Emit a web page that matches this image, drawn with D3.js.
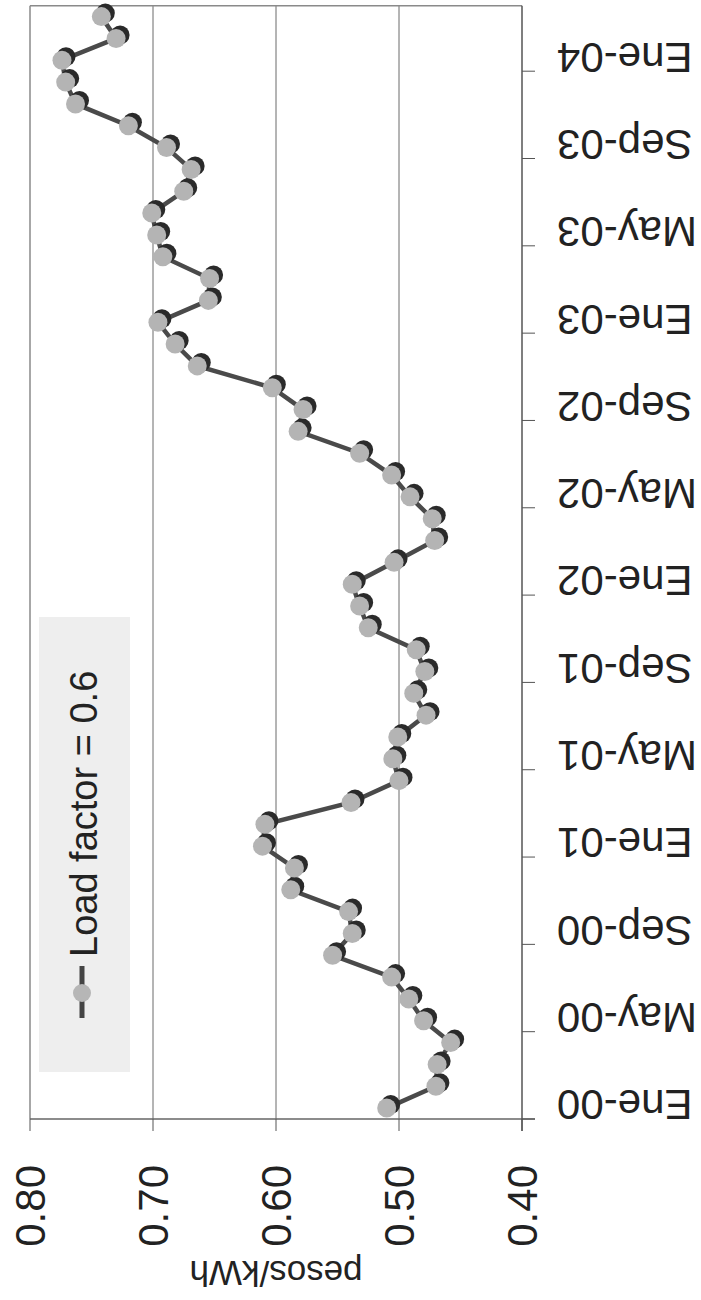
<!DOCTYPE html>
<html>
<head>
<meta charset="utf-8">
<script src="https://cdn.jsdelivr.net/npm/d3@7"></script>
<style>
  body { margin: 0; background: #fff; }
  text { font-family: "Liberation Sans", Arial, sans-serif; fill: #222; }
</style>
</head>
<body>
<div id="chart"></div>
<script>
// Monthly price, load factor 0.6 (chart is drawn turned a quarter turn)
const monthNames = ["Ene", "Feb", "Mar", "Abr", "May", "Jun", "Jul", "Ago", "Sep", "Oct", "Nov", "Dic"];
const months = d3.range(51).map(i => monthNames[i % 12] + "-0" + Math.floor(i / 12));

const prices = [
  0.510, 0.470, 0.469, 0.458, 0.480, 0.492, 0.506, 0.554, 0.538, 0.541, 0.588, 0.585,
  0.611, 0.609, 0.539, 0.500, 0.505, 0.501, 0.478, 0.488, 0.479, 0.486, 0.525, 0.532,
  0.538, 0.504, 0.471, 0.473, 0.491, 0.506, 0.532, 0.582, 0.578, 0.603, 0.664, 0.682,
  0.696, 0.655, 0.654, 0.692, 0.697, 0.701, 0.675, 0.669, 0.689, 0.720, 0.763, 0.771,
  0.774, 0.730, 0.742
];

const valueTicks = [0.40, 0.50, 0.60, 0.70, 0.80];
const monthTicks = months.filter((m, i) => i % 4 === 0);
const seriesName = "Load factor = 0.6";
const axisTitle = "pesos/kWh";

// Setup
const width = 701;
const height = 1300;
const plotTop = 5.7, plotBottom = 1119, plotLeft = 30, plotRight = 522;

const svg = d3.select("#chart")
    .append("svg")
    .attr("width", width)
    .attr("height", height);

const x = d3.scaleLinear()
    .domain([0.40, 0.80])
    .range([plotRight, plotLeft]);

const y = d3.scaleBand()
    .domain(months)
    .range([plotBottom, plotTop])
    .padding(0);

const yc = m => y(m) + y.bandwidth() / 2;

// gridlines
svg.append("g")
    .selectAll("line")
    .data(valueTicks.filter(v => v > 0.40 && v < 0.80))
    .join("line")
    .attr("x1", d => x(d)).attr("x2", d => x(d))
    .attr("y1", plotTop).attr("y2", plotBottom)
    .attr("stroke", "#6a6a6a")
    .attr("stroke-width", 1);

// plot frame (left + top)
svg.append("line")
    .attr("x1", plotLeft).attr("x2", plotLeft)
    .attr("y1", plotTop).attr("y2", plotBottom)
    .attr("stroke", "#8a8a8a").attr("stroke-width", 1.5);
svg.append("line")
    .attr("x1", plotLeft).attr("x2", plotRight)
    .attr("y1", plotTop).attr("y2", plotTop)
    .attr("stroke", "#8a8a8a").attr("stroke-width", 1.5);

// value axis (bottom edge)
const valAxis = svg.append("g");
valAxis.append("line")
    .attr("x1", plotLeft).attr("x2", plotRight + 13)
    .attr("y1", plotBottom).attr("y2", plotBottom)
    .attr("stroke", "#666").attr("stroke-width", 1.5);
valAxis.selectAll("line.tick")
    .data(valueTicks)
    .join("line")
    .attr("class", "tick")
    .attr("x1", d => x(d)).attr("x2", d => x(d))
    .attr("y1", plotBottom).attr("y2", plotBottom + 12)
    .attr("stroke", "#555").attr("stroke-width", 1);
valAxis.selectAll("text")
    .data(valueTicks)
    .join("text")
    .attr("transform", d => `translate(${x(d)},1165) rotate(-90)`)
    .attr("text-anchor", "end")
    .attr("dy", "0.35em")
    .style("font-size", "42px")
    .text(d3.format(".2f"));

svg.append("text")
    .attr("transform", `translate(${(plotLeft + plotRight) / 2},1261) rotate(180)`)
    .attr("text-anchor", "middle")
    .style("font-size", "35px")
    .text(axisTitle);

// category axis (right edge)
const catAxis = svg.append("g");
catAxis.append("line")
    .attr("x1", plotRight).attr("x2", plotRight)
    .attr("y1", plotTop).attr("y2", plotBottom + 12)
    .attr("stroke", "#555").attr("stroke-width", 1.5);
catAxis.selectAll("line.tick")
    .data(monthTicks)
    .join("line")
    .attr("class", "tick")
    .attr("x1", plotRight).attr("x2", plotRight + 13)
    .attr("y1", d => y(d) + y.bandwidth()).attr("y2", d => y(d) + y.bandwidth())
    .attr("stroke", "#555").attr("stroke-width", 1);
catAxis.selectAll("text")
    .data(monthTicks)
    .join("text")
    .attr("transform", d => `translate(557,${yc(d) - 3}) rotate(180)`)
    .attr("text-anchor", "end")
    .attr("dy", "0.35em")
    .style("font-size", "42px")
    .text(d => d);

// legend
const legend = svg.append("g");
legend.append("rect")
    .attr("x", 39).attr("y", 617)
    .attr("width", 91).attr("height", 455)
    .attr("fill", "#eeeeee");
legend.append("line")
    .attr("x1", 82).attr("x2", 82)
    .attr("y1", 966).attr("y2", 1018)
    .attr("stroke", "#444").attr("stroke-width", 5);
legend.append("circle")
    .attr("cx", 82).attr("cy", 993).attr("r", 9)
    .attr("fill", "#b6b6b6");
legend.append("text")
    .attr("transform", "translate(97,957) rotate(-90)")
    .style("font-size", "38px")
    .text(seriesName);

// series
const line = d3.line()
    .x((d, i) => x(d))
    .y((d, i) => yc(months[i]));

svg.append("path")
    .datum(prices)
    .attr("d", line)
    .attr("fill", "none")
    .attr("stroke", "#4a4a4a")
    .attr("stroke-width", 4.5);

svg.append("g")
    .selectAll("circle")
    .data(prices)
    .join("circle")
    .attr("cx", d => x(d) + 4)
    .attr("cy", (d, i) => yc(months[i]) - 3.5)
    .attr("r", 9.5)
    .attr("fill", "#2a2a2a");

svg.append("g")
    .selectAll("circle")
    .data(prices)
    .join("circle")
    .attr("cx", d => x(d))
    .attr("cy", (d, i) => yc(months[i]))
    .attr("r", 9.5)
    .attr("fill", "#b4b4b4");
</script>
</body>
</html>
